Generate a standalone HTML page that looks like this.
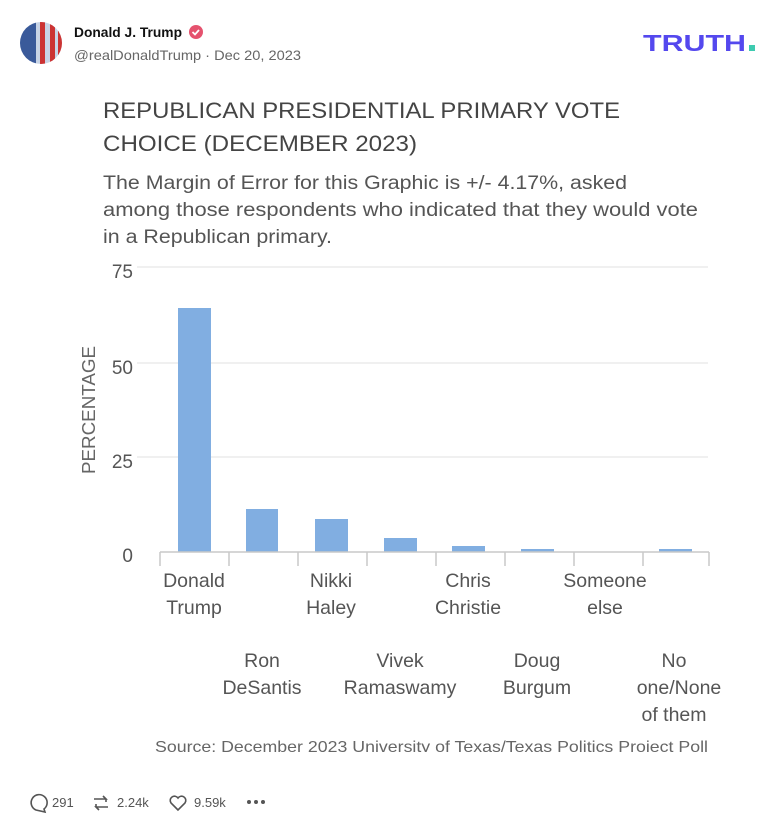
<!DOCTYPE html>
<html><head><meta charset="utf-8"><style>
body{margin:0;width:777px;height:833px;background:#fff;overflow:hidden;font-family:"Liberation Sans",sans-serif;}
svg{position:absolute;left:0;top:0}
</style></head><body>
<svg width="777" height="833" viewBox="0 0 777 833" xmlns="http://www.w3.org/2000/svg">
<defs><clipPath id="av"><circle cx="41" cy="43" r="21"/></clipPath><clipPath id="img"><rect x="0" y="80" width="777" height="672"/></clipPath></defs>
<g clip-path="url(#av)">
<rect x="20" y="22" width="42" height="42" fill="#c8d4e6"/>
<rect x="20" y="22" width="16" height="42" fill="#3a5a9a"/>
<rect x="40" y="22" width="5" height="42" fill="#c33"/><rect x="50" y="22" width="5" height="42" fill="#c33"/><rect x="58" y="22" width="4" height="42" fill="#c33"/>
</g>
<text x="74" y="37" font-size="14" font-weight="bold" fill="#111" textLength="108" lengthAdjust="spacingAndGlyphs">Donald J. Trump</text>
<circle cx="196" cy="32" r="7" fill="#e5526e"/><path d="M192.5 32l2.5 2.5 4-4.5" stroke="#fff" stroke-width="1.8" fill="none"/>
<text x="74" y="60" font-size="14" fill="#666" textLength="227" lengthAdjust="spacingAndGlyphs">@realDonaldTrump · Dec 20, 2023</text>
<text x="643" y="51" font-size="23" font-weight="bold" fill="#5448ee" textLength="103" lengthAdjust="spacingAndGlyphs">TRUTH</text>
<rect x="749" y="45" width="6" height="6" fill="#3ecbb0"/>
<g clip-path="url(#img)" fill="#555">
<text x="103" y="118" font-size="22.5" fill="#444" textLength="517" lengthAdjust="spacingAndGlyphs">REPUBLICAN PRESIDENTIAL PRIMARY VOTE</text>
<text x="103" y="151" font-size="22.5" fill="#444" textLength="314" lengthAdjust="spacingAndGlyphs">CHOICE (DECEMBER 2023)</text>
<text x="103" y="189" font-size="19" fill="#555" textLength="524" lengthAdjust="spacingAndGlyphs">The Margin of Error for this Graphic is +/- 4.17%, asked</text>
<text x="103" y="216" font-size="19" fill="#555" textLength="595" lengthAdjust="spacingAndGlyphs">among those respondents who indicated that they would vote</text>
<text x="103" y="243" font-size="19" fill="#555" textLength="229" lengthAdjust="spacingAndGlyphs">in a Republican primary.</text>
<g stroke="#ececec" stroke-width="1.5"><line x1="137" y1="267" x2="708" y2="267"/><line x1="137" y1="363" x2="708" y2="363"/><line x1="137" y1="457" x2="708" y2="457"/></g>
<g font-size="19" fill="#555" text-anchor="end"><text x="133" y="278">75</text><text x="133" y="374">50</text><text x="133" y="468">25</text><text x="133" y="562">0</text></g>
<text transform="translate(95,410) rotate(-90)" font-size="18" fill="#666" text-anchor="middle" textLength="128" lengthAdjust="spacingAndGlyphs">PERCENTAGE</text>
<g fill="#81aee1">
<rect x="178" y="308" width="33" height="244"/><rect x="246" y="509" width="32" height="43"/><rect x="315" y="519" width="33" height="33"/><rect x="384" y="538" width="33" height="14"/><rect x="452" y="546" width="33" height="6"/><rect x="521" y="549" width="33" height="3"/><rect x="659" y="549" width="33" height="3"/>
</g>
<g stroke="#c8c8c8" stroke-width="1.5"><line x1="160" y1="552" x2="709" y2="552"/>
<line x1="160" y1="552" x2="160" y2="566"/><line x1="229" y1="552" x2="229" y2="566"/><line x1="298" y1="552" x2="298" y2="566"/><line x1="367" y1="552" x2="367" y2="566"/><line x1="436" y1="552" x2="436" y2="566"/><line x1="505" y1="552" x2="505" y2="566"/><line x1="574" y1="552" x2="574" y2="566"/><line x1="643" y1="552" x2="643" y2="566"/><line x1="709" y1="552" x2="709" y2="566"/></g>
<g font-size="19.5" fill="#555" text-anchor="middle">
<text x="194" y="587">Donald</text><text x="194" y="614">Trump</text>
<text x="331" y="587">Nikki</text><text x="331" y="614">Haley</text>
<text x="468" y="587">Chris</text><text x="468" y="614">Christie</text>
<text x="605" y="587">Someone</text><text x="605" y="614">else</text>
<text x="262" y="667">Ron</text><text x="262" y="694">DeSantis</text>
<text x="400" y="667">Vivek</text><text x="400" y="694">Ramaswamy</text>
<text x="537" y="667">Doug</text><text x="537" y="694">Burgum</text>
<text x="674" y="667">No</text><text x="679" y="694">one/None</text><text x="674" y="721">of them</text>
</g>
<text x="155" y="752" font-size="16" fill="#666" textLength="553" lengthAdjust="spacingAndGlyphs">Source: December 2023 University of Texas/Texas Politics Project Poll</text>
</g>
<g fill="none" stroke="#555" stroke-width="1.6">
<path d="M36 810 a8 8 0 1 1 8 -1 l1 3 z"/>
<path d="M94 799h12l-3-3M106 799v3M108 807H96l3 3M96 807v-3"/>
<path d="M178 810 l-7-7 a4 4 0 0 1 7-5 a4 4 0 0 1 7 5 z"/>
</g>
<g font-size="13" fill="#555"><text x="52" y="807">291</text><text x="117" y="807">2.24k</text><text x="194" y="807">9.59k</text></g>
<g fill="#555"><circle cx="249" cy="802" r="2"/><circle cx="256" cy="802" r="2"/><circle cx="263" cy="802" r="2"/></g>
</svg>
</body></html>
